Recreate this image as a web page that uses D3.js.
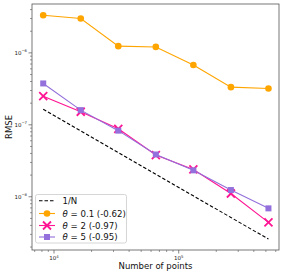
<!DOCTYPE html>
<html><head><meta charset="utf-8">
<script src="https://cdn.jsdelivr.net/npm/d3@7"></script>
<style>body{margin:0;background:#fff}svg{display:block;font-family:"DejaVu Sans",sans-serif}</style>
</head><body>
<svg id="c" width="284" height="274"></svg>
<script>
const nPoints = [8192, 16384, 32768, 65536, 131072, 262144, 524288];
const refLine = [1.65e-7, 8.25e-8, 4.12e-8, 2.06e-8, 1.03e-8, 5.15e-9, 2.58e-9];
const theta01 = [3.34e-6, 3.0e-6, 1.24e-6, 1.21e-6, 6.8e-7, 3.34e-7, 3.2e-7];
const theta2 = [2.5e-7, 1.52e-7, 8.8e-8, 3.8e-8, 2.4e-8, 1.11e-8, 4.4e-9];
const theta5 = [3.76e-7, 1.6e-7, 8.3e-8, 3.87e-8, 2.33e-8, 1.24e-8, 6.9e-9];
const legendLabels = ["1/N", "θ = 0.1 (-0.62)", "θ = 2 (-0.97)", "θ = 5 (-0.95)"];
const xTickExp = [4, 5];
const yTickExp = [-8, -7, -6];

const L = 32, R = 279, T = 4, B = 250;
const svg = d3.select("#c");
const x = d3.scaleLog().domain([6660, 637000]).range([L, R]);
const y = d3.scaleLog().domain([1.82e-9, 4.78e-6]).range([B, T]);

// minor ticks
const xMinor = [], yMinor = [];
for (let e = 3; e <= 5; e++) for (let m = 2; m <= 9; m++) { const v = m * Math.pow(10, e); if (v > 6660 && v < 637000) xMinor.push(v); }
for (let e = -9; e <= -6; e++) for (let m = 2; m <= 9; m++) { const v = m * Math.pow(10, e); if (v > 1.82e-9 && v < 4.78e-6) yMinor.push(v); }

const g = svg.append("g");
const tc = "#333";
g.selectAll(".xm").data(xMinor).join("line").attr("x1", d => x(d)).attr("x2", d => x(d)).attr("y1", B).attr("y2", B + 2).attr("stroke", tc).attr("stroke-width", 0.5);
g.selectAll(".ym").data(yMinor).join("line").attr("y1", d => y(d)).attr("y2", d => y(d)).attr("x1", L).attr("x2", L - 2).attr("stroke", tc).attr("stroke-width", 0.5);
g.selectAll(".xM").data(xTickExp).join("line").attr("x1", d => x(Math.pow(10, d))).attr("x2", d => x(Math.pow(10, d))).attr("y1", B).attr("y2", B + 3.5).attr("stroke", tc).attr("stroke-width", 0.6);
g.selectAll(".yM").data(yTickExp).join("line").attr("y1", d => y(Math.pow(10, d))).attr("y2", d => y(Math.pow(10, d))).attr("x1", L).attr("x2", L - 3.5).attr("stroke", tc).attr("stroke-width", 0.6);

xTickExp.forEach(e => {
  const t = g.append("text").attr("x", x(Math.pow(10, e))).attr("y", B + 10).attr("text-anchor", "middle").attr("font-size", 5.5).attr("fill", "#222");
  t.append("tspan").text("10");
  t.append("tspan").attr("dy", -2.5).attr("font-size", 3.8).text(e);
});
yTickExp.forEach(e => {
  const t = g.append("text").attr("x", L - 5).attr("y", y(Math.pow(10, e)) + 2).attr("text-anchor", "end").attr("font-size", 5.5).attr("fill", "#222");
  t.append("tspan").text("10");
  t.append("tspan").attr("dy", -2.5).attr("font-size", 3.8).text("\u2212" + Math.abs(e));
});

svg.append("text").attr("x", (L + R) / 2).attr("y", 269).attr("text-anchor", "middle").attr("font-size", 8.5).attr("fill", "#111").text("Number of points");
svg.append("text").attr("transform", `translate(12,${(T + B) / 2}) rotate(-90)`).attr("text-anchor", "middle").attr("font-size", 8.5).attr("fill", "#111").text("RMSE");

const line = d3.line().x(d => x(d[0])).y(d => y(d[1]));
const zip = arr => nPoints.map((n, i) => [n, arr[i]]);

svg.append("path").attr("d", line(zip(refLine))).attr("fill", "none").attr("stroke", "#000").attr("stroke-width", 1.1).attr("stroke-dasharray", "3.5,2");

const cOr = "#ffa500", cPk = "#ff1493", cPu = "#9370db";
svg.append("path").attr("d", line(zip(theta01))).attr("fill", "none").attr("stroke", cOr).attr("stroke-width", 1.1);
svg.selectAll(".o").data(zip(theta01)).join("circle").attr("cx", d => x(d[0])).attr("cy", d => y(d[1])).attr("r", 3.3).attr("fill", cOr);

svg.append("path").attr("d", line(zip(theta2))).attr("fill", "none").attr("stroke", cPk).attr("stroke-width", 1.1);
const cross = (sel, s) => sel.append("path").attr("d", `M${-s},${-s}L${s},${s}M${-s},${s}L${s},${-s}`).attr("stroke", cPk).attr("stroke-width", 1.8).attr("fill", "none");
zip(theta2).forEach(d => cross(svg.append("g").attr("transform", `translate(${x(d[0])},${y(d[1])})`), 4));

svg.append("path").attr("d", line(zip(theta5))).attr("fill", "none").attr("stroke", cPu).attr("stroke-width", 1.1);
svg.selectAll(".s").data(zip(theta5)).join("rect").attr("x", d => x(d[0]) - 3).attr("y", d => y(d[1]) - 3).attr("width", 6).attr("height", 6).attr("fill", cPu);

// frame
svg.append("rect").attr("x", L).attr("y", T).attr("width", R - L).attr("height", B - T).attr("fill", "none").attr("stroke", "#555").attr("stroke-width", 0.8);

// legend
const lg = svg.append("g");
lg.append("rect").attr("x", 35.5).attr("y", 194.5).attr("width", 91).attr("height", 48.5).attr("rx", 2).attr("fill", "#fff").attr("fill-opacity", 0.8).attr("stroke", "#ccc").attr("stroke-width", 0.8);
const ly = [200.7, 213.5, 225.5, 237];
const lx1 = 39, lx2 = 55;
lg.append("line").attr("x1", lx1).attr("x2", lx2).attr("y1", ly[0]).attr("y2", ly[0]).attr("stroke", "#000").attr("stroke-width", 1.1).attr("stroke-dasharray", "3.5,2");
lg.append("line").attr("x1", lx1).attr("x2", lx2).attr("y1", ly[1]).attr("y2", ly[1]).attr("stroke", cOr).attr("stroke-width", 1.1);
lg.append("circle").attr("cx", (lx1 + lx2) / 2).attr("cy", ly[1]).attr("r", 3.3).attr("fill", cOr);
lg.append("line").attr("x1", lx1).attr("x2", lx2).attr("y1", ly[2]).attr("y2", ly[2]).attr("stroke", cPk).attr("stroke-width", 1.1);
cross(lg.append("g").attr("transform", `translate(${(lx1 + lx2) / 2},${ly[2]})`), 4);
lg.append("line").attr("x1", lx1).attr("x2", lx2).attr("y1", ly[3]).attr("y2", ly[3]).attr("stroke", cPu).attr("stroke-width", 1.1);
lg.append("rect").attr("x", (lx1 + lx2) / 2 - 3).attr("y", ly[3] - 3).attr("width", 6).attr("height", 6).attr("fill", cPu);
legendLabels.forEach((t, i) => {
  const tx = lg.append("text").attr("x", 62.5).attr("y", ly[i] + 3).attr("font-size", 8.6).attr("fill", "#111");
  if (t.startsWith("θ")) {
    tx.append("tspan").attr("font-style", "italic").text("θ");
    tx.append("tspan").text(t.slice(1));
  } else tx.text(t);
});
</script>
</body></html>
